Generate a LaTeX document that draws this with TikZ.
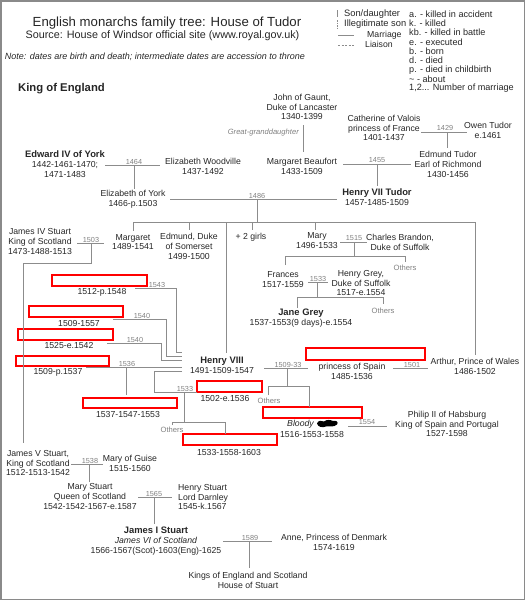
\documentclass[tikz,border=0pt]{standalone}
\usepackage{fontspec}
\setmainfont{Liberation Sans}
\definecolor{txtc}{HTML}{262626}
\definecolor{yrc}{HTML}{808080}
\definecolor{linec}{HTML}{8C8C8C}
\definecolor{framec}{HTML}{8A8A8A}
\newcommand\boldname[1]{{\fontsize{9.4}{9.8}\selectfont\bfseries #1}}
\begin{document}
\begin{tikzpicture}[x=1pt,y=-1pt,
  person/.style={font=\fontsize{8.7}{9.8}\selectfont, align=center, inner sep=0pt, text=txtc},
  yr/.style={font=\fontsize{7.3}{8}\selectfont, inner sep=0pt, text=yrc},
  oth/.style={font=\fontsize{7.6}{8}\selectfont, inner sep=0pt, text=yrc},
  legtext/.style={font=\fontsize{8.7}{9.8}\selectfont, inner sep=0pt, text=txtc, anchor=west},
  abbr/.style={font=\fontsize{9.1}{9.8}\selectfont, inner sep=0pt, text=txtc, anchor=west},
  link/.style={draw=linec, line width=0.9pt},
  redbox/.style={draw=red, line width=1.3pt, inner sep=0pt},
]
\useasboundingbox (0,0) rectangle (525,600);
\draw[framec, line width=1.5pt] (0.75,0.75) rectangle (524.25,599.25);

% titles
\node[font=\fontsize{13.2}{15}\selectfont, text=txtc, inner sep=0pt] (title) at (167,23) {English monarchs family tree: House of Tudor};
\node[font=\fontsize{10.8}{12}\selectfont, text=txtc, inner sep=0pt] (source) at (162.5,36) {Source: House of Windsor official site (www.royal.gov.uk)};
\node[font=\fontsize{9}{10}\selectfont\itshape, text=txtc, inner sep=0pt] (note) at (155,57) {Note: dates are birth and death; intermediate dates are accession to throne};
\node[font=\fontsize{11.3}{12}\selectfont\bfseries, text=txtc, inner sep=0pt, anchor=west] (king) at (18,89) {King of England};

% legend
\coordinate (lg1a) at (337,10); \coordinate (lg1b) at (337,17);
\coordinate (lg2a) at (337,20); \coordinate (lg2b) at (337,28);
\coordinate (lg3a) at (338,35); \coordinate (lg3b) at (354,35);
\coordinate (lg4a) at (338,45); \coordinate (lg4b) at (354,45);
\draw[link] (lg1a) -- (lg1b);
\draw[link, dash pattern=on 1.5pt off 1pt] (lg2a) -- (lg2b);
\draw[link] (lg3a) -- (lg3b);
\draw[link, dash pattern=on 2pt off 1.5pt] (lg4a) -- (lg4b);
\node[legtext, font=\fontsize{9.3}{9.8}\selectfont] (lgson) at (344,14) {Son/daughter};
\node[legtext, font=\fontsize{9.3}{9.8}\selectfont] (lgill) at (344,24) {Illegitimate son};
\node[legtext] (lgmar) at (367,35) {Marriage};
\node[legtext] (lglia) at (365,44) {Liaison};
\node[abbr] (ab1) at (409,14) {a. - killed in accident};
\node[abbr] (ab2) at (409,23.3) {k. - killed};
\node[abbr] (ab3) at (409,32.6) {kb. - killed in battle};
\node[abbr] (ab4) at (409,41.9) {e. - executed};
\node[abbr] (ab5) at (409,51.2) {b. - born};
\node[abbr] (ab6) at (409,60.5) {d. - died};
\node[abbr] (ab7) at (409,69.8) {p. - died in childbirth};
\node[abbr] (ab8) at (409,79.1) {\textasciitilde\ - about};
\node[abbr] (ab9) at (409,88.4) {1,2... Number of marriage};

% people
\node[person] (gaunt) at (302,107) {John of Gaunt,\\Duke of Lancaster\\1340-1399};
\node[person] (valois) at (384,128) {Catherine of Valois\\princess of France\\1401-1437};
\node[person] (owen) at (488,130.5) {Owen Tudor\\e.1461};
\node[person] (edward4) at (65,164) {\boldname{Edward IV of York}\\1442-1461-1470;\\1471-1483};
\node[person] (woodville) at (203,166) {Elizabeth Woodville\\1437-1492};
\node[person] (beaufort) at (302,166) {Margaret Beaufort\\1433-1509};
\node[person] (edmundT) at (448,164.5) {Edmund Tudor\\Earl of Richmond\\1430-1456};
\node[person] (elizyork) at (133,199) {Elizabeth of York\\1466-p.1503};
\node[person] (henry7) at (377,197) {\boldname{Henry VII Tudor}\\1457-1485-1509};
\node[person] (james4) at (40,241.5) {James IV Stuart\\King of Scotland\\1473-1488-1513};
\node[person] (margaret) at (133,242) {Margaret\\1489-1541};
\node[person] (edmundS) at (189,246.5) {Edmund, Duke\\of Somerset\\1499-1500};
\node[person] (girls) at (251,237.5) {+ 2 girls};
\node[person] (mary) at (317,240.5) {Mary\\1496-1533};
\node[person] (brandon) at (400,242) {Charles Brandon,\\Duke of Suffolk};
\node[oth] (others1) at (405,268) {Others};
\node[person] (frances) at (283,279.5) {Frances\\1517-1559};
\node[person] (hgrey) at (361,283) {Henry Grey,\\Duke of Suffolk\\1517-e.1554};
\node[oth] (others2) at (383,311) {Others};
\node[person] (jane) at (301,318.5) {\boldname{Jane Grey}\\1537-1553(9 days)-e.1554};

\node[redbox, minimum width=95pt, minimum height=11pt] (parrname) at (99.5,280.5) {};
\node[person] (parr) at (102,292) {1512-p.1548};
\node[redbox, minimum width=94pt, minimum height=11pt] (clevesname) at (76,311.5) {};
\node[person] (cleves) at (79,323) {1509-1557};
\node[redbox, minimum width=95pt, minimum height=11pt] (howardname) at (65.5,334.5) {};
\node[person] (howard) at (69,345) {1525-e.1542};
\node[redbox, minimum width=93pt, minimum height=10pt] (seymourname) at (62.5,361) {};
\node[person] (seymour) at (58,372) {1509-p.1537};

\node[person] (henry8) at (222,365.3) {\boldname{Henry VIII}\\1491-1509-1547};
\node[redbox, minimum width=119pt, minimum height=12pt] (aragonname) at (365.5,354) {};
\node[person] (aragon) at (352,371) {princess of Spain\\1485-1536};
\node[person] (arthur) at (475,366) {Arthur, Prince of Wales\\1486-1502};
\node[redbox, minimum width=65pt, minimum height=11pt] (boleynname) at (229.5,386.5) {};
\node[person] (boleyn) at (225,398) {1502-e.1536};
\node[redbox, minimum width=94pt, minimum height=10pt] (edward6name) at (130,403) {};
\node[person] (edward6) at (128,414) {1537-1547-1553};
\node[redbox, minimum width=99pt, minimum height=11pt] (marytname) at (312.5,412.5) {};
\node[person] (bloody) at (300.5,424) {\itshape Bloody};
\fill[black] (317,423.5) .. controls (318,420) and (322,420.5) .. (324,421.5) .. controls (327,419) and (331,420) .. (333,421) .. controls (336,420) and (339,422) .. (337,424.5) .. controls (334,427.5) and (329,426) .. (326,426.5) .. controls (322,428) and (318,427) .. (317,423.5);
\node[person] (maryt) at (312,434) {1516-1553-1558};
\node[person] (philip) at (447,424) {Philip II of Habsburg\\King of Spain and Portugal\\1527-1598};
\node[oth] (others3) at (269,401) {Others};
\node[oth] (others4) at (172,430) {Others};
\node[redbox, minimum width=94pt, minimum height=11pt] (eliz1name) at (230,439.5) {};
\node[person] (eliz1) at (229,452) {1533-1558-1603};

\node[person] (james5) at (38,463) {James V Stuart,\\King of Scotland\\1512-1513-1542};
\node[person] (guise) at (130,463) {Mary of Guise\\1515-1560};
\node[person] (marys) at (90,496.5) {Mary Stuart\\Queen of Scotland\\1542-1542-1567-e.1587};
\node[person, align=left, anchor=west] (darnley) at (178,497) {Henry Stuart\\Lord Darnley\\1545-k.1567};
\node[person] (james1) at (156,541) {\boldname{James I Stuart}\\\textit{James VI of Scotland}\\1566-1567(Scot)-1603(Eng)-1625};
\node[person] (anne) at (334,542) {Anne, Princess of Denmark\\1574-1619};
\node[person] (stuarts) at (248,580.5) {Kings of England and Scotland\\House of Stuart};

% Gaunt -> Beaufort
\coordinate (g1) at (303,125); \coordinate (g2) at (303,152);
\draw[link] (g1) -- (g2);
\node[font=\fontsize{7.6}{9}\selectfont\itshape, text=yrc, inner sep=0pt, anchor=east] (ggd) at (299,133) {Great-granddaughter};

% 1429
\coordinate (a1) at (421,132); \coordinate (a2) at (467,132); \coordinate (a3) at (447,132); \coordinate (a4) at (447,148);
\draw[link] (a1) -- (a2); \draw[link] (a3) -- (a4);
\node[yr] (y1429) at (445,128) {1429};
% 1464
\coordinate (b1) at (105,165); \coordinate (b2) at (160,165); \coordinate (b3) at (134,165); \coordinate (b4) at (134,189);
\draw[link] (b1) -- (b2); \draw[link] (b3) -- (b4);
\node[yr] (y1464) at (134,161.5) {1464};
% 1455
\coordinate (c1) at (343,164); \coordinate (c2) at (411,164); \coordinate (c3) at (377,164); \coordinate (c4) at (377,186);
\draw[link] (c1) -- (c2); \draw[link] (c3) -- (c4);
\node[yr] (y1455) at (377,160.5) {1455};
% 1486
\coordinate (d1) at (170,199); \coordinate (d2) at (337,199); \coordinate (d3) at (257,199); \coordinate (d4) at (257,222);
\draw[link] (d1) -- (d2); \draw[link] (d3) -- (d4);
\node[yr] (y1486) at (257,195.5) {1486};
% children bar
\coordinate (k1) at (133,222); \coordinate (k2) at (475,222);
\draw[link] (k1) -- (k2);
\coordinate (k1b) at (133,231); \draw[link] (k1) -- (k1b);
\coordinate (k3) at (189,222); \coordinate (k3b) at (189,230); \draw[link] (k3) -- (k3b);
\coordinate (k4) at (226,222); \coordinate (k4b) at (226,353); \draw[link] (k4) -- (k4b);
\coordinate (k5) at (252,222); \coordinate (k5b) at (252,230); \draw[link] (k5) -- (k5b);
\coordinate (k6) at (315,222); \coordinate (k6b) at (315,230); \draw[link] (k6) -- (k6b);
\coordinate (k2b) at (475,355); \draw[link] (k2) -- (k2b);
% 1503
\coordinate (e1) at (77,243); \coordinate (e2) at (104,243); \coordinate (e3) at (91,243);
\coordinate (e4) at (91,263); \coordinate (e5) at (23,263); \coordinate (e6) at (23,443);
\draw[link] (e1) -- (e2); \draw[link] (e3) -- (e4) -- (e5) -- (e6);
\node[yr] (y1503) at (91,239.5) {1503};
% 1515
\coordinate (f1) at (340,242); \coordinate (f2) at (367,242); \coordinate (f3) at (354,242); \coordinate (f4) at (354,256);
\coordinate (f5) at (285,256); \coordinate (f6) at (405,256); \coordinate (f7) at (285,265); \coordinate (f8) at (405,262);
\draw[link] (f1) -- (f2); \draw[link] (f3) -- (f4);
\draw[link] (f7) -- (f5) -- (f6) -- (f8);
\node[yr] (y1515) at (354,238.5) {1515};
% 1533 Grey
\coordinate (h1) at (308,282); \coordinate (h2) at (328,282); \coordinate (h3) at (317,282); \coordinate (h4) at (317,297);
\coordinate (h5) at (297,297); \coordinate (h6) at (383,297); \coordinate (h7) at (297,308); \coordinate (h8) at (383,304);
\draw[link] (h1) -- (h2); \draw[link] (h3) -- (h4);
\draw[link] (h7) -- (h5) -- (h6) -- (h8);
\node[yr] (y1533g) at (318,278.5) {1533};
% Henry VIII wives
\coordinate (p1) at (135,288); \coordinate (p2) at (176,288); \coordinate (p3) at (176,352); \coordinate (p4) at (182,352);
\draw[link] (p1) -- (p2) -- (p3) -- (p4);
\node[yr] (y1543) at (157,284.5) {1543};
\coordinate (q1) at (113,319); \coordinate (q2) at (166,319); \coordinate (q3) at (166,356); \coordinate (q4) at (182,356);
\draw[link] (q1) -- (q2) -- (q3) -- (q4);
\node[yr] (y1540a) at (142,315.5) {1540};
\coordinate (r1) at (107,343); \coordinate (r2) at (161,343); \coordinate (r3) at (161,360); \coordinate (r4) at (182,360);
\draw[link] (r1) -- (r2) -- (r3) -- (r4);
\node[yr] (y1540b) at (135,339.5) {1540};
\coordinate (s1) at (86,367); \coordinate (s2) at (182,367); \coordinate (s3) at (126,367); \coordinate (s4) at (126,395);
\draw[link] (s1) -- (s2); \draw[link] (s3) -- (s4);
\node[yr] (y1536) at (127,363.5) {1536};
\coordinate (t1) at (182,371); \coordinate (t2) at (154,371); \coordinate (t3) at (154,392); \coordinate (t4) at (197,392);
\draw[link] (t1) -- (t2) -- (t3) -- (t4);
\node[yr] (y1533b) at (185,388.5) {1533};
\coordinate (t5) at (184,392); \coordinate (t6) at (184,422); \coordinate (t7) at (172,422); \coordinate (t8) at (225,422);
\coordinate (t9) at (172,425); \coordinate (t10) at (225,434);
\draw[link] (t5) -- (t6); \draw[link] (t9) -- (t7) -- (t8) -- (t10);
% 1509-33
\coordinate (u1) at (264,368); \coordinate (u2) at (308,368); \coordinate (u3) at (287,368); \coordinate (u4) at (287,386);
\coordinate (u5) at (268,386); \coordinate (u6) at (309,386); \coordinate (u7) at (268,395); \coordinate (u8) at (309,407);
\draw[link] (u1) -- (u2); \draw[link] (u3) -- (u4);
\draw[link] (u7) -- (u5) -- (u6) -- (u8);
\node[yr] (y1509) at (288,364.5) {1509-33};
% 1501
\coordinate (v1) at (393,368); \coordinate (v2) at (428,368);
\draw[link] (v1) -- (v2);
\node[yr] (y1501) at (412,364.5) {1501};
% 1554
\coordinate (w1) at (348,426); \coordinate (w2) at (387,426);
\draw[link] (w1) -- (w2);
\node[yr] (y1554) at (367,422.5) {1554};
% 1538
\coordinate (x1) at (71,464); \coordinate (x2) at (103,464); \coordinate (x3) at (89,464); \coordinate (x4) at (89,482);
\draw[link] (x1) -- (x2); \draw[link] (x3) -- (x4);
\node[yr] (y1538) at (90,460.5) {1538};
% 1565
\coordinate (z1) at (138,497); \coordinate (z2) at (172,497); \coordinate (z3) at (154,497); \coordinate (z4) at (154,524);
\draw[link] (z1) -- (z2); \draw[link] (z3) -- (z4);
\node[yr] (y1565) at (154,493.5) {1565};
% 1589
\coordinate (o1) at (223,541); \coordinate (o2) at (272,541); \coordinate (o3) at (249,541); \coordinate (o4) at (249,568);
\draw[link] (o1) -- (o2); \draw[link] (o3) -- (o4);
\node[yr] (y1589) at (250,537.5) {1589};
\end{tikzpicture}
\end{document}
